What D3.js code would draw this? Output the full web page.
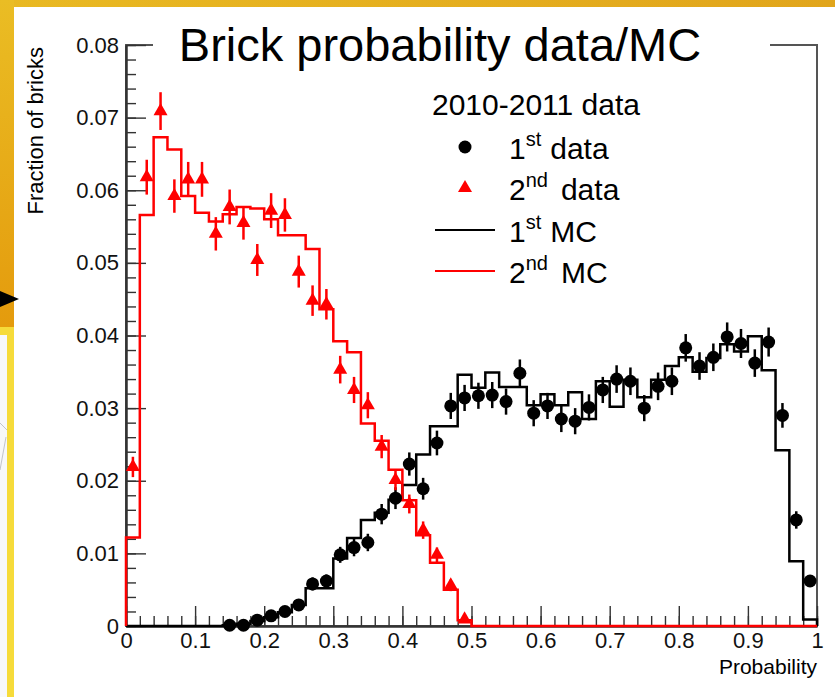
<!DOCTYPE html>
<html lang="en">
<head>
<meta charset="UTF-8">
<title>Brick probability data/MC</title>
<script src="https://d3js.org/d3.v7.min.js"></script>
<style>
    body { margin: 0; background: #fff; }
    svg { display: block; font-family: "Liberation Sans", Arial, Helvetica, sans-serif; }
</style>
</head>
<body>
<div id="chart"></div>
<script>
    // histogram bins (low edges), width 0.02
    var binLow = [0, 0.02, 0.04, 0.06, 0.08, 0.10, 0.12, 0.14, 0.16, 0.18,
        0.20, 0.22, 0.24, 0.26, 0.28, 0.30, 0.32, 0.34, 0.36, 0.38,
        0.40, 0.42, 0.44, 0.46, 0.48, 0.50, 0.52, 0.54, 0.56, 0.58,
        0.60, 0.62, 0.64, 0.66, 0.68, 0.70, 0.72, 0.74, 0.76, 0.78,
        0.80, 0.82, 0.84, 0.86, 0.88, 0.90, 0.92, 0.94, 0.96, 0.98];

    // 1st MC (black line)
    var mc1 = [0, 0, 0, 0, 0, 0, 0, 0.0001, 0.0003, 0.0007,
        0.0012, 0.0019, 0.0029, 0.0052, 0.0052, 0.0093, 0.0121, 0.0146, 0.0156, 0.0174,
        0.0194, 0.0236, 0.0275, 0.0275, 0.0346, 0.0328, 0.0349, 0.0329, 0.0329, 0.0304,
        0.0319, 0.0304, 0.0322, 0.0285, 0.0337, 0.0302, 0.0339, 0.0315, 0.0339, 0.0358,
        0.0370, 0.0350, 0.0369, 0.0388, 0.0378, 0.0399, 0.0352, 0.0242, 0.0089, 0.0009];

    // 2nd MC (red line)
    var mc2 = [0.0122, 0.0566, 0.0673, 0.0656, 0.0592, 0.0569, 0.0557, 0.0567, 0.0577, 0.0575,
        0.0560, 0.0538, 0.0538, 0.0519, 0.0436, 0.0392, 0.0377, 0.0279, 0.0255, 0.0215,
        0.0173, 0.0125, 0.0087, 0.0050, 0.0008, 0, 0, 0, 0, 0,
        0, 0, 0, 0, 0, 0, 0, 0, 0, 0,
        0, 0, 0, 0, 0, 0, 0, 0, 0, 0];

    // 1st data (black dots)
    var data1X = [0.15, 0.17, 0.19, 0.21, 0.23, 0.25, 0.27, 0.29, 0.31, 0.33,
        0.35, 0.37, 0.39, 0.41, 0.43, 0.45, 0.47, 0.49, 0.51, 0.53,
        0.55, 0.57, 0.59, 0.61, 0.63, 0.65, 0.67, 0.69, 0.71, 0.73,
        0.75, 0.77, 0.79, 0.81, 0.83, 0.85, 0.87, 0.89, 0.91, 0.93,
        0.95, 0.97, 0.99];
    var data1Y = [0.0001, 0.0001, 0.0008, 0.0014, 0.0020, 0.0029, 0.0058, 0.0062, 0.0098, 0.0108,
        0.0115, 0.0154, 0.0176, 0.0223, 0.0189, 0.0252, 0.0303, 0.0314, 0.0317, 0.0318,
        0.0309, 0.0348, 0.0293, 0.0303, 0.0285, 0.0282, 0.0301, 0.0325, 0.0340, 0.0337,
        0.0300, 0.0330, 0.0337, 0.0383, 0.0358, 0.0370, 0.0398, 0.0389, 0.0362, 0.0391,
        0.0290, 0.0146, 0.0062];
    var data1Err = [0.0002, 0.0002, 0.0004, 0.0005, 0.0006, 0.0007, 0.0009, 0.0009, 0.0011, 0.0012,
        0.0012, 0.0014, 0.0015, 0.0016, 0.0015, 0.0017, 0.0018, 0.0018, 0.0018, 0.0018,
        0.0018, 0.0019, 0.0018, 0.0018, 0.0018, 0.0018, 0.0018, 0.0018, 0.0019, 0.0019,
        0.0018, 0.0019, 0.0019, 0.0019, 0.0019, 0.0019, 0.0020, 0.0020, 0.0019, 0.0020,
        0.0017, 0.0012, 0.0008];

    // 2nd data (red triangles)
    var data2X = [0.01, 0.03, 0.05, 0.07, 0.09, 0.11, 0.13, 0.15, 0.17, 0.19,
        0.21, 0.23, 0.25, 0.27, 0.29, 0.31, 0.33, 0.35, 0.37, 0.39,
        0.41, 0.43, 0.45, 0.47, 0.49];
    var data2Y = [0.0219, 0.0618, 0.0709, 0.0592, 0.0615, 0.0615, 0.0540, 0.0577, 0.0555, 0.0504,
        0.0572, 0.0566, 0.0488, 0.0448, 0.0443, 0.0353, 0.0325, 0.0304, 0.0247, 0.0201,
        0.0168, 0.0132, 0.0098, 0.0056, 0.0009];
    var data2Err = [0.0014, 0.0024, 0.0026, 0.0023, 0.0024, 0.0024, 0.0023, 0.0024, 0.0023, 0.0022,
        0.0024, 0.0023, 0.0022, 0.0021, 0.0021, 0.0019, 0.0018, 0.0018, 0.0016, 0.0014,
        0.0013, 0.0012, 0.0010, 0.0008, 0.0003];

    var xTickValues = [0, 0.1, 0.2, 0.3, 0.4, 0.5, 0.6, 0.7, 0.8, 0.9, 1];
    var xTickLabels = ["0", "0.1", "0.2", "0.3", "0.4", "0.5", "0.6", "0.7", "0.8", "0.9", "1"];
    var yTickValues = [0, 0.01, 0.02, 0.03, 0.04, 0.05, 0.06, 0.07, 0.08];
    var yTickLabels = ["0", "0.01", "0.02", "0.03", "0.04", "0.05", "0.06", "0.07", "0.08"];

    var W = 835, H = 700;
    var margin = { top: 45, right: 18, bottom: 74, left: 126 },
        width = W - margin.left - margin.right,
        height = H - margin.top - margin.bottom;

    var svg = d3.select("#chart")
        .append("svg")
        .attr("width", W)
        .attr("height", H);

    // slide decorations on the left / top edge
    var defs = svg.append("defs");
    var gTop = defs.append("linearGradient").attr("id", "gTop");
    gTop.append("stop").attr("offset", "0%").attr("stop-color", "#e9b922");
    gTop.append("stop").attr("offset", "100%").attr("stop-color", "#e1a51b");
    var gLeft = defs.append("linearGradient").attr("id", "gLeft")
        .attr("x1", 0).attr("y1", 0).attr("x2", 0).attr("y2", 1);
    gLeft.append("stop").attr("offset", "0%").attr("stop-color", "#eabd24");
    gLeft.append("stop").attr("offset", "100%").attr("stop-color", "#e49b0d");

    svg.append("rect").attr("x", 0).attr("y", 0).attr("width", W).attr("height", 7).attr("fill", "url(#gTop)");
    svg.append("rect").attr("x", 0).attr("y", 0).attr("width", 14).attr("height", 327).attr("fill", "url(#gLeft)");
    svg.append("path").attr("d", "M0,291L19,299L0,307Z").attr("fill", "#000");
    svg.append("rect").attr("x", 0).attr("y", 327).attr("width", 14).attr("height", 8).attr("fill", "#f6db3a");
    svg.append("rect").attr("x", 0).attr("y", 335).attr("width", 7).attr("height", 362).attr("fill", "#f7f8fb");
    svg.append("rect").attr("x", 7).attr("y", 335).attr("width", 7).attr("height", 362).attr("fill", "#f6db3a");
    svg.append("path").attr("d", "M0,423L7,430M0,470L6,437").attr("stroke", "#a9adb5").attr("stroke-width", 0.7).attr("fill", "none");

    var g = svg.append("g")
        .attr("transform", "translate(" + margin.left + "," + margin.top + ")");

    var x = d3.scaleLinear().domain([0, 1]).range([0, width]);
    var y = d3.scaleLinear().domain([0, 0.08]).range([height, 0]);

    // frame
    g.append("rect")
        .attr("width", width).attr("height", height)
        .attr("fill", "none").attr("stroke", "#555").attr("stroke-width", 2);

    // minor ticks
    g.append("g")
        .attr("class", "minor")
        .call(d3.axisLeft(y).tickValues(d3.range(0, 0.0801, 0.002)).tickSizeInner(-10).tickSizeOuter(0).tickFormat(""));
    g.append("g")
        .attr("class", "minor")
        .attr("transform", "translate(0," + height + ")")
        .call(d3.axisBottom(x).tickValues(d3.range(0, 1.0001, 0.02)).tickSizeInner(-10).tickSizeOuter(0).tickFormat(""));

    // major ticks + labels
    var yAxis = g.append("g")
        .call(d3.axisLeft(y).tickValues(yTickValues).tickSizeInner(-20).tickSizeOuter(0).tickPadding(7)
            .tickFormat(function (d, i) { return yTickLabels[i]; }));
    var xAxis = g.append("g")
        .attr("transform", "translate(0," + height + ")")
        .call(d3.axisBottom(x).tickValues(xTickValues).tickSizeInner(-20).tickSizeOuter(0).tickPadding(6)
            .tickFormat(function (d, i) { return xTickLabels[i]; }));

    g.selectAll(".tick line").attr("stroke", "#333").attr("stroke-width", 1.4);
    g.selectAll(".domain").attr("stroke", "#333").attr("stroke-width", 2);
    g.selectAll(".tick text").attr("fill", "#111").style("font-size", "22px").style("font-family", "'Liberation Sans', Arial, sans-serif");

    // histograms
    var line = d3.line()
        .x(function (d) { return x(d[0]) })
        .y(function (d) { return y(d[1]) })
        .curve(d3.curveStepAfter);

    function histPoints(vals) {
        var pts = [[0, 0]];
        vals.forEach(function (v, i) { pts.push([binLow[i], v]); });
        pts.push([1, vals[vals.length - 1]]);
        pts.push([1, 0]);
        return pts;
    }

    g.append("path")
        .attr("d", line(histPoints(mc1)))
        .attr("fill", "none").attr("stroke", "#000").attr("stroke-width", 2.5);
    g.append("path")
        .attr("d", line(histPoints(mc2)))
        .attr("fill", "none").attr("stroke", "#ff0000").attr("stroke-width", 2.5);

    // 1st data: error bars + dots
    var pts1 = data1X.map(function (d, i) { return { x: d, y: data1Y[i], e: data1Err[i] }; });
    g.selectAll("err1").data(pts1).enter().append("line")
        .attr("x1", function (d) { return x(d.x) }).attr("x2", function (d) { return x(d.x) })
        .attr("y1", function (d) { return y(d.y - d.e) }).attr("y2", function (d) { return y(d.y + d.e) })
        .attr("stroke", "#000").attr("stroke-width", 2.5);
    g.selectAll("dot1").data(pts1).enter().append("circle")
        .attr("cx", function (d) { return x(d.x) })
        .attr("cy", function (d) { return y(d.y) })
        .attr("r", 6.5)
        .attr("fill", "#000");

    // 2nd data: error bars + triangles
    var tri = d3.symbol().type(d3.symbolTriangle).size(85);
    var pts2 = data2X.map(function (d, i) { return { x: d, y: data2Y[i], e: data2Err[i] }; });
    g.selectAll("err2").data(pts2).enter().append("line")
        .attr("x1", function (d) { return x(d.x) }).attr("x2", function (d) { return x(d.x) })
        .attr("y1", function (d) { return y(d.y - d.e) }).attr("y2", function (d) { return y(d.y + d.e) })
        .attr("stroke", "#ff0000").attr("stroke-width", 2.5);
    g.selectAll("tri2").data(pts2).enter().append("path")
        .attr("d", tri)
        .attr("transform", function (d) { return "translate(" + x(d.x) + "," + y(d.y) + ")" })
        .attr("fill", "#ff0000");

    // title box over the frame
    svg.append("rect").attr("x", 153).attr("y", 20).attr("width", 617).attr("height", 50).attr("fill", "#fff");
    svg.append("text")
        .attr("x", 440).attr("y", 61)
        .attr("text-anchor", "middle")
        .style("font-size", "47px")
        .text("Brick probability data/MC");

    // axis titles
    svg.append("text")
        .attr("transform", "translate(43,47) rotate(-90)")
        .attr("text-anchor", "end")
        .style("font-size", "22px")
        .text("Fraction of bricks");
    svg.append("text")
        .attr("x", margin.left + width).attr("y", 674)
        .attr("text-anchor", "end")
        .style("font-size", "21px")
        .text("Probability");

    // legend
    var legend = svg.append("g").style("font-size", "30px");
    legend.append("text").attr("x", 432).attr("y", 115).text("2010-2011 data");

    var legendRows = [
        { num: "1", sup: "st", rest: "data", y: 159, kind: "dot" },
        { num: "2", sup: "nd", rest: "data", y: 200, kind: "tri" },
        { num: "1", sup: "st", rest: "MC", y: 242, kind: "black" },
        { num: "2", sup: "nd", rest: "MC", y: 283, kind: "red" }
    ];
    legendRows.forEach(function (r) {
        var t = legend.append("text").attr("x", 509).attr("y", r.y);
        t.append("tspan").text(r.num);
        t.append("tspan").attr("dy", -13).style("font-size", "20px").text(r.sup);
        t.append("tspan").attr("dy", 13).attr("dx", r.sup == "nd" ? 13 : 9).text(r.rest);
        var my = r.y - 12;
        if (r.kind == "dot") {
            legend.append("circle").attr("cx", 465).attr("cy", my).attr("r", 6.5).attr("fill", "#000");
        } else if (r.kind == "tri") {
            legend.append("path").attr("d", tri).attr("transform", "translate(465," + my + ")").attr("fill", "#ff0000");
        } else {
            legend.append("line").attr("x1", 435).attr("x2", 495).attr("y1", my).attr("y2", my)
                .attr("stroke", r.kind == "red" ? "#ff0000" : "#000").attr("stroke-width", 2);
        }
    });
</script>
</body>
</html>
